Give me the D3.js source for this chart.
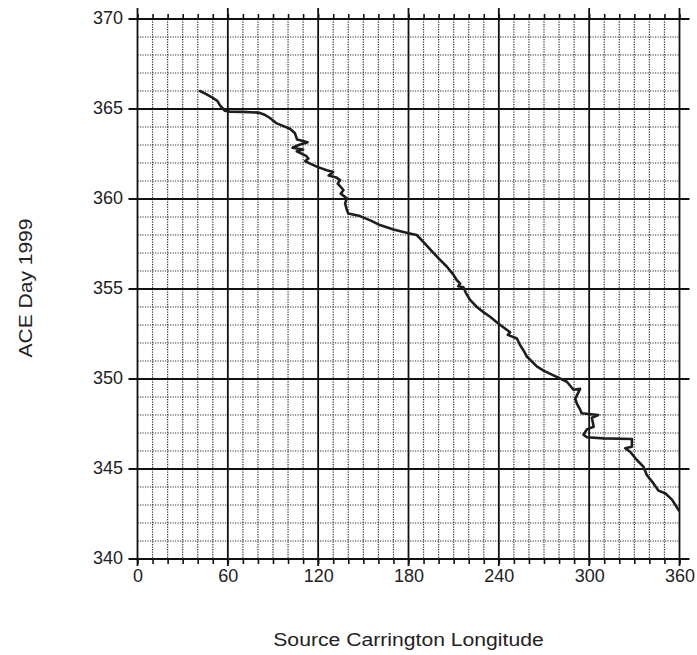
<!DOCTYPE html>
<html>
<head>
<meta charset="utf-8">
<script src="https://cdn.jsdelivr.net/npm/d3@7/dist/d3.min.js"></script>
<style>
  html, body { margin: 0; padding: 0; background: #fff; }
  svg { display: block; }
  text { font-family: "Liberation Sans", Arial, sans-serif; fill: #222; }
</style>
</head>
<body>
<svg id="chart" width="697" height="655"></svg>
<script>
// Source Carrington longitude (deg) traced by the solar wind seen at ACE
const longitude = [41.5, 45, 50.4, 53, 54.8, 57, 58.1, 61.5, 70, 80.3, 84, 88, 92.5, 97, 101.3, 104.6,
  106, 113, 107, 103, 110, 105.8, 112, 113.5, 111.3, 115, 119, 125.7, 130, 127, 132, 134.5,
  133, 136.8, 135, 139, 137.9, 139, 140, 147.8, 155, 161, 170, 180, 185.5, 190, 194.4, 200,
  205.4, 209.8, 212, 214.3, 213, 216.5, 218, 220.9, 225.4, 230, 234.2, 238, 240.9, 247.5,
  246, 252, 254, 256.3, 258.6, 265.2, 270, 276.3, 285.2, 289.6, 294, 290.7, 292, 294, 295,
  306, 301.8, 303, 298.5, 296.2, 298.5, 309.5, 328.4, 328.4, 323.9, 327.2, 331.7, 336,
  338.3, 342.7, 346, 350.5, 355, 357.3, 359.5];
// ACE day of year 1999
const aceDay = [366.0, 365.85, 365.6, 365.45, 365.2, 365.0, 364.9, 364.85, 364.84, 364.8, 364.7, 364.5,
  364.2, 364.05, 363.9, 363.65, 363.3, 363.15, 363.0, 362.85, 362.75, 362.65, 362.4, 362.25,
  362.1, 361.95, 361.8, 361.6, 361.5, 361.3, 361.2, 361.05, 360.85, 360.5, 360.3, 360.04,
  359.76, 359.4, 359.2, 359.05, 358.8, 358.55, 358.3, 358.1, 358.0, 357.6, 357.2, 356.7,
  356.25, 355.8, 355.5, 355.3, 355.15, 355.1, 354.8, 354.4, 354.0, 353.7, 353.46, 353.2,
  353.0, 352.6, 352.45, 352.25, 351.9, 351.6, 351.25, 350.7, 350.45, 350.2, 349.85, 349.4,
  349.45, 348.9, 348.6, 348.3, 348.1, 348.0, 347.85, 347.35, 347.2, 346.9, 346.76, 346.7,
  346.67, 346.24, 346.15, 345.96, 345.5, 345.13, 344.67, 344.2, 343.8, 343.65, 343.3,
  343.0, 342.7];

const xMajorTicks = [0, 60, 120, 180, 240, 300, 360];
const yMajorTicks = [340, 345, 350, 355, 360, 365, 370];
const xMinorTicks = d3.range(0, 361, 10);
const yMinorTicks = d3.range(340, 371, 1);
const xTitle = "Source Carrington Longitude";
const yTitle = "ACE Day 1999";

const svg = d3.select("#chart");
const x = d3.scaleLinear().domain([0, 360]).range([137.5, 679.5]);
const y = d3.scaleLinear().domain([340, 370]).range([559, 19]);
const [x0, x1] = x.range();
const [y0, y1] = y.range();

// dotted minor grid
const grid = svg.append("g");
grid.selectAll("line.vx").data(xMinorTicks.filter(v => v % 60 !== 0)).join("line")
  .attr("x1", d => x(d)).attr("x2", d => x(d)).attr("y1", y1).attr("y2", y0)
  .attr("stroke", "#333").attr("stroke-width", 1.2).attr("stroke-dasharray", "1.2,1.3");
grid.selectAll("line.hy").data(yMinorTicks.filter(v => v % 5 !== 0)).join("line")
  .attr("x1", x0).attr("x2", x1).attr("y1", d => y(d)).attr("y2", d => y(d))
  .attr("stroke", "#333").attr("stroke-width", 1.2).attr("stroke-dasharray", "1.2,1.3");

// solid major grid, extending slightly beyond the frame
const major = svg.append("g");
major.selectAll("line.mx").data(xMajorTicks).join("line")
  .attr("x1", d => x(d)).attr("x2", d => x(d)).attr("y1", y1 - 11).attr("y2", y0 + 7)
  .attr("stroke", "#111").attr("stroke-width", 1.8);
major.selectAll("line.my").data(yMajorTicks).join("line")
  .attr("x1", x0 - 9).attr("x2", x1 + 10).attr("y1", d => y(d)).attr("y2", d => y(d))
  .attr("stroke", "#111").attr("stroke-width", 1.8);

// minor tick marks outside top and bottom
const styleAxis = g => {
  g.select(".domain").remove();
  g.selectAll(".tick line").attr("stroke", "#111").attr("stroke-width", 1.6);
};
svg.append("g").attr("transform", `translate(0,${y0})`)
  .call(d3.axisBottom(x).tickValues(xMinorTicks).tickSize(5).tickFormat(""))
  .call(styleAxis);
svg.append("g").attr("transform", `translate(0,${y1})`)
  .call(d3.axisTop(x).tickValues(xMinorTicks).tickSize(5).tickFormat(""))
  .call(styleAxis);

// tick labels
const xAxis = svg.append("g").attr("transform", `translate(0,${y0})`)
  .call(d3.axisBottom(x).tickValues(xMajorTicks).tickSize(0).tickPadding(10).tickFormat(d3.format("d")));
xAxis.select(".domain").remove();
xAxis.selectAll("text").attr("font-size", 18).attr("font-family", "Liberation Sans, Arial, sans-serif").attr("fill", "#222");

const yAxis = svg.append("g").attr("transform", `translate(${x0},0)`)
  .call(d3.axisLeft(y).tickValues(yMajorTicks).tickSize(0).tickPadding(14.5).tickFormat(d3.format("d")));
yAxis.select(".domain").remove();
yAxis.selectAll("text").attr("font-size", 18).attr("dy", "0.26em")
  .attr("font-family", "Liberation Sans, Arial, sans-serif").attr("fill", "#222");

// data trace
const pts = longitude.map((lon, i) => [lon, aceDay[i]]);
svg.append("path").datum(pts)
  .attr("fill", "none").attr("stroke", "#1e1e1e").attr("stroke-width", 2.6)
  .attr("stroke-linejoin", "round").attr("stroke-linecap", "round")
  .attr("d", d3.line().x(d => x(d[0])).y(d => y(d[1])));

// axis titles (wide face: glyphs stretched horizontally)
svg.append("text").attr("transform", `translate(${(x0 + x1) / 2},646) scale(1.21,1)`)
  .attr("text-anchor", "middle").attr("font-size", 17.5).text(xTitle);
svg.append("text").attr("transform", `translate(32,${(y0 + y1) / 2 - 1}) rotate(-90) scale(1.2,1)`)
  .attr("text-anchor", "middle").attr("font-size", 17.5).text(yTitle);
</script>
</body>
</html>
